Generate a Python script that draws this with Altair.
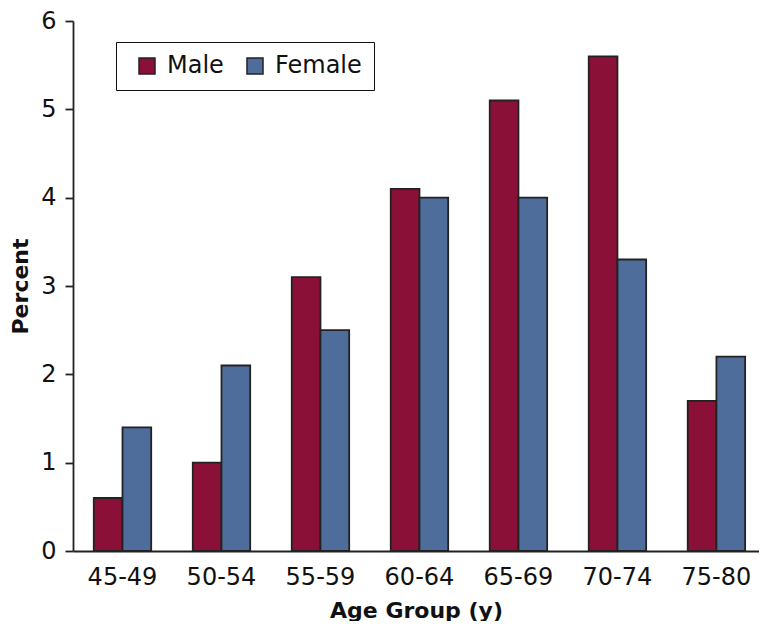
import altair as alt
import pandas as pd

groups = ["45-49", "50-54", "55-59", "60-64", "65-69", "70-74", "75-80"]
male = [0.6, 1.0, 3.1, 4.1, 5.1, 5.6, 1.7]
female = [1.4, 2.1, 2.5, 4.0, 4.0, 3.3, 2.2]
sexes = ["Male", "Female"]
colors = ["#8A1038", "#4E6D9B"]

rows = []
for g, m, f in zip(groups, male, female):
    rows.append({"group": g, "sex": "Male", "pct": m})
    rows.append({"group": g, "sex": "Female", "pct": f})
df = pd.DataFrame(rows)

FONT = "DejaVu Sans"

chart = alt.Chart(df).mark_bar(stroke="#222222", strokeWidth=1.8).encode(
    x=alt.X("group:N", sort=groups, title="Age Group (y)",
            scale=alt.Scale(paddingInner=0.42, paddingOuter=0.175, align=0.6),
            axis=alt.Axis(labelAngle=0, ticks=False, labelPadding=14, titlePadding=11)),
    xOffset=alt.XOffset("sex:N", sort=sexes),
    y=alt.Y("pct:Q", title="Percent",
            scale=alt.Scale(domain=[0, 6], nice=False),
            axis=alt.Axis(values=[0, 1, 2, 3, 4, 5, 6], tickSize=8, tickWidth=1.8,
                          labelPadding=9, titlePadding=8, grid=False)),
    color=alt.Color("sex:N", sort=sexes,
                    scale=alt.Scale(domain=sexes, range=colors),
                    legend=alt.Legend(title=None, orient="none", legendX=43, legendY=21,
                                      direction="horizontal", columns=2,
                                      strokeColor="#111111", padding=12,
                                      symbolType="square", symbolSize=256, symbolOffset=7,
                                      symbolStrokeColor="#222222", symbolStrokeWidth=1.5,
                                      symbolOpacity=1,
                                      labelExpr="datum.label == 'Female' ? 'Female\u00a0\u00a0' : datum.label",
                                      labelFontSize=24, labelFont=FONT, labelColor="#111111",
                                      columnPadding=12, labelOffset=8)),
).properties(
    width=686, height=530,
    autosize=alt.AutoSizeParams(type="none"),
    padding={"left": 65, "top": 13, "right": 0, "bottom": 70},
).configure_view(stroke=None).configure_axis(
    domainColor="#222222", domainWidth=1.8, tickColor="#222222",
    labelFont=FONT, labelFontSize=24, labelColor="#111111",
    titleFont=FONT, titleFontSize=22, titleFontWeight="bold", titleColor="#111111",
)

chart.save("out.html", embed_options={"renderer": "svg", "actions": False})
